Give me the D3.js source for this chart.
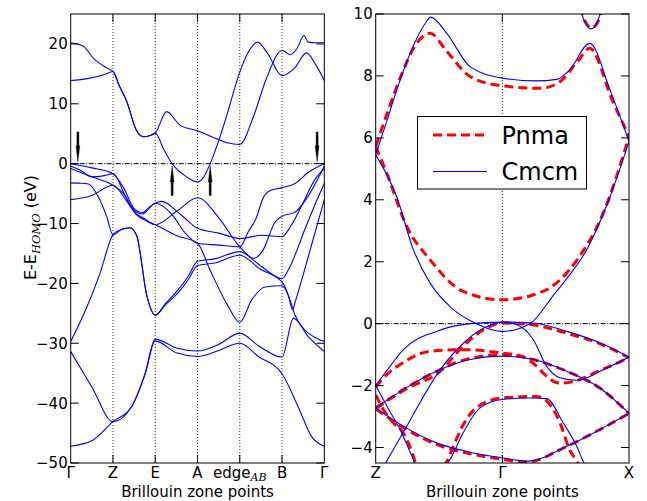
<!DOCTYPE html>
<html>
<head>
<meta charset="utf-8">
<script src="https://cdnjs.cloudflare.com/ajax/libs/d3/7.8.5/d3.min.js"></script>
<style>
  body { margin: 0; background: #fff; }
  svg { display: block; }
  text { font-family: "DejaVu Sans", sans-serif; fill: #000; }
</style>
</head>
<body>
<div id="chart"></div>
<script>
// ---- data: [k, energy] pairs, k = index of the high-symmetry point ----
const leftPoints = ["Γ", "Z", "E", "A", "edge", "B", "Γ"];
const leftYTicks = [-50, -40, -30, -20, -10, 0, 10, 20];

const conductionBands = [
  [[0,20.2],[0.3,19.6],[0.55,17.5],[0.85,16],[1,15.4],[1.15,13],[1.32,10.5],[1.56,5.5],[1.72,4.5],[1.88,4.7],[2,5.1],
   [2.27,8.7],[2.59,6.4],[3,5.5],[3.37,4.4],[3.7,3.5],[4,3.2],[4.32,7.8],[4.64,14.4],[5,18.9],[5.05,18.8],[5.19,18.2],
   [5.35,19.2],[5.52,21.4],[5.62,20.3],[5.8,20.2],[6,20.2]],
  [[0,13.9],[0.4,14.2],[0.8,14.9],[1,15.4],[1.15,13],[1.32,10.5],[1.56,5.5],[1.72,4.5],[1.88,4.7],[2,5.1],[2.2,2.4],
   [2.4,0],[2.74,-2.2],[3,-3.05],[3.15,-2.2],[3.3,0],[3.5,3.8],[3.69,8],[4,15.3],[4.2,18.6],[4.42,20.3],[4.65,18.5],
   [5,14.7],[5.3,16],[5.58,18.5],[5.8,16.5],[6,13.9]]
];

const valenceBands = [
  [[0,0],[0.5,-0.7],[1,-1.67],[1.25,-4],[1.5,-7.5],[1.7,-8.2],[1.85,-7.3],[2,-6.6],[2.15,-6.3],[2.6,-8.5],[3,-10.8],
   [3.5,-11.6],[4,-12.5],[4.53,-11.95],[5,-12.2],[5.2,-10.5],[5.47,-6.95],[5.79,-2.5],[6,-0.8]],
  [[0,-0.4],[0.25,-1.2],[0.5,-2.2],[0.8,-2.0],[1,-1.67],[1.3,-5.5],[1.5,-8],[1.75,-9.2],[2,-10.2],[2.5,-8],[3,-5.7],
   [3.5,-9],[4,-13.9],[4.32,-15.8],[4.53,-14.7],[4.84,-9.7],[5,-8.8],[5.31,-8.1],[5.63,-5.3],[6,-0.4]],
  [[0,-0.8],[0.5,-2.2],[1,-3.6],[1.25,-5],[1.5,-7.8],[1.7,-8.4],[1.85,-7.5],[2,-6.6],[2.4,-8.5],[2.7,-11.5],[3,-13.3],
   [3.5,-13.6],[4,-13.9],[4.2,-11.4],[4.4,-8.9],[4.53,-6.1],[4.72,-4.5],[5,-4.0],[5.31,-3.3],[5.63,-1.4],[6,0]],
  [[0,-3.2],[0.2,-3.25],[0.42,-3.4],[0.65,-5.5],[0.85,-8.8],[1,-11.9],[1.2,-11],[1.4,-10.7],[1.56,-12],[1.8,-22],
   [2,-25.3],[2.25,-23.5],[2.55,-21.5],[2.78,-19.4],[3,-17.0],[3.4,-16.6],[4,-15.3],[4.48,-17.6],[5,-19.8],[5.15,-22],
   [5.25,-24.4],[5.31,-23.1],[5.63,-15.3],[6,-6]],
  [[0,-6],[0.5,-5.3],[1,-3.6],[1.3,-6],[1.55,-8.5],[1.8,-9.6],[2,-10.2],[2.5,-12],[3,-13.3],[3.3,-17.8],[3.7,-23.5],
   [4,-26.5],[4.28,-22.8],[4.6,-20.6],[5,-20.4],[5.2,-23],[5.3,-25.2],[5.54,-27.8],[5.75,-28.9],[6,-29.7]]
];

const coreBands = [
  [[0,-29.7],[0.35,-24.5],[0.69,-18.4],[1,-11.9],[1.2,-11],[1.4,-10.7],[1.56,-12],[1.8,-22],[2,-25.3],[2.25,-23.3],
   [2.55,-21],[2.78,-18.8],[3,-16.3],[3.4,-15.9],[4,-14.7],[4.48,-17],[5,-19.2],[5.2,-17],[5.55,-10.8],[5.8,-6.5],[6,-3.3]],
  [[0,-31.4],[0.5,-37.3],[1,-43.1],[1.44,-40.6],[1.76,-35],[2,-29.3],[2.5,-30.8],[3,-31.3],[3.5,-30.2],[4,-28.3],
   [4.44,-30.4],[5,-32.3],[5.27,-25.8],[5.62,-28.9],[6,-31.4]],
  [[0,-47.2],[0.5,-46.3],[1,-43.1],[1.44,-40.6],[1.76,-35.2],[2,-29.6],[2.5,-31.6],[3,-32.2],[3.5,-31.2],[4,-30],
   [4.44,-32.2],[5,-35.1],[5.38,-40.6],[5.7,-45.6],[6,-47.2]]
];

// arrows: [k, start energy, tip energy]
const arrows = [[0.17, 5.3, 0.3], [2.40, -5.3, -0.4], [3.30, -5.3, -0.4], [5.83, 5.3, 0.3]];

const rightPoints = ["Z", "Γ", "X"];
const rightYTicks = [-4, -2, 0, 2, 4, 6, 8, 10];
const seriesNames = ["Pnma", "Cmcm"];

const pnmaBands = [
  [[0,5.72],[0.1,6.9],[0.2,8.0],[0.3,8.9],[0.43,9.38],[0.56,8.8],[0.745,7.98],[1,7.68],[1.3,7.6],[1.45,7.8],[1.6,8.5],
   [1.69,8.89],[1.87,7.2],[2,6.04]],
  [[0,5.72],[0.087,4.86],[0.245,3.14],[0.43,2.06],[0.69,1.04],[1,0.77],[1.32,1.04],[1.59,2.06],[1.8,3.6],[2,6.04]],
  [[1.615,10.25],[1.655,9.75],[1.705,9.55],[1.755,9.75],[1.795,10.25]],
  [[0,-2.72],[0.245,-2.1],[0.508,-1.54],[0.69,-0.73],[0.876,-0.14],[1,0.02],[1.22,-0.03],[1.5,-0.3],[1.77,-0.65],[2,-1.1]],
  [[0,-2.05],[0.1,-1.6],[0.2,-1.3],[0.43,-0.89],[0.69,-0.84],[1,-0.95],[1.15,-1.05],[1.25,-1.3],[1.35,-1.7],[1.45,-1.92],
   [1.55,-1.88],[1.75,-1.55],[2,-1.1]],
  [[0,-2.75],[0.218,-2.13],[0.48,-1.54],[0.745,-1.12],[1,-1.0],[1.245,-1.16],[1.51,-1.54],[1.77,-2.08],[2,-2.9]],
  [[0,-2.3],[0.06,-2.77],[0.139,-3.2],[0.218,-3.53],[0.297,-4.28],[0.33,-4.7]],
  [[0,-2.75],[0.218,-3.35],[0.48,-3.9],[0.745,-4.2],[1,-4.38],[1.19,-4.47],[1.51,-3.96],[1.77,-3.42],[2,-2.9]],
  [[0.53,-4.6],[0.56,-4.46],[0.613,-3.96],[0.7,-3.2],[0.8,-2.7],[1,-2.4],[1.27,-2.35],[1.35,-2.5],[1.455,-3.2],
   [1.53,-4.06],[1.59,-4.46],[1.61,-4.6]]
];

const cmcmBands = [
  [[0,5.45],[0.1,6.7],[0.166,7.55],[0.3,9.0],[0.4,9.75],[0.434,9.9],[0.56,9.38],[0.745,8.3],[1,7.93],[1.27,7.84],
   [1.43,7.89],[1.53,8.19],[1.69,9.05],[1.85,7.55],[2,5.88]],
  [[0,5.45],[0.166,4.1],[0.297,2.39],[0.43,1.31],[0.6,0.5],[0.795,0],[1,-0.25],[1.218,0],[1.4,0.9],[1.48,1.31],
   [1.666,2.39],[1.85,4.1],[2,5.88]],
  [[1.61,10.25],[1.65,9.75],[1.70,9.52],[1.75,9.75],[1.79,10.25]],
  [[0,-2.0],[0.113,-1.38],[0.218,-0.84],[0.48,-0.25],[0.745,0],[1,0.05],[1.24,0.02],[1.51,-0.25],[1.77,-0.62],[2,-1.08]],
  [[0.03,-4.85],[0.087,-4.44],[0.245,-3.31],[0.5,-1.54],[0.7,-0.6],[0.85,-0.15],[1,0.05],[1.11,-0.03],[1.245,-0.52],
   [1.35,-1.38],[1.455,-1.75],[1.587,-1.83],[1.8,-1.48],[2,-1.08]],
  [[0,-2.72],[0.218,-2.13],[0.48,-1.54],[0.745,-1.16],[1,-1.05],[1.245,-1.16],[1.51,-1.54],[1.77,-2.08],[2,-2.9]],
  [[0,-2.0],[0.1,-2.75],[0.192,-3.42],[0.297,-4.39],[0.36,-5]],
  [[0,-2.72],[0.218,-3.31],[0.48,-3.85],[0.745,-4.15],[1,-4.33],[1.2,-4.44],[1.51,-3.96],[1.77,-3.42],[2,-2.9]],
  [[0.55,-4.6],[0.587,-4.39],[0.69,-3.53],[0.824,-2.72],[1,-2.45],[1.218,-2.4],[1.35,-2.42],[1.48,-3.2],[1.587,-3.96],
   [1.64,-4.46],[1.66,-4.6]]
];

// ---- layout ----
const W = 647, H = 501;
const plotTop = 14, plotBottom = 463;

const svg = d3.select("#chart").append("svg").attr("width", W).attr("height", H);
const defs = svg.append("defs");

const minus = t => String(t).replace("-", "\u2212");

function panel(id, x, y, points, yTicks) {
  const [x0, x1] = x.range();
  defs.append("clipPath").attr("id", id)
    .append("rect").attr("x", x0).attr("y", plotTop).attr("width", x1 - x0).attr("height", plotBottom - plotTop);

  const g = svg.append("g");

  // dotted lines at the high-symmetry points
  g.selectAll(".grid").data(d3.range(1, points.length - 1)).enter().append("line")
    .attr("x1", d => x(d)).attr("x2", d => x(d)).attr("y1", plotTop).attr("y2", plotBottom)
    .attr("stroke", "#333").attr("stroke-width", 1).attr("stroke-dasharray", "1,2");

  // HOMO level
  g.append("line")
    .attr("x1", x0).attr("x2", x1).attr("y1", y(0)).attr("y2", y(0))
    .attr("stroke", "#000").attr("stroke-width", 1).attr("stroke-dasharray", "5,1.5,1,1.5");

  const bands = svg.append("g").attr("clip-path", "url(#" + id + ")");

  // frame and ticks go on top
  const axes = svg.append("g");
  axes.append("rect").attr("x", x0).attr("y", plotTop).attr("width", x1 - x0).attr("height", plotBottom - plotTop)
    .attr("fill", "none").attr("stroke", "#000").attr("stroke-width", 1);

  yTicks.forEach(t => {
    axes.append("line").attr("x1", x0).attr("x2", x0 + 8).attr("y1", y(t)).attr("y2", y(t)).attr("stroke", "#000");
    axes.append("line").attr("x1", x1 - 8).attr("x2", x1).attr("y1", y(t)).attr("y2", y(t)).attr("stroke", "#000");
    axes.append("text").attr("x", x0 - 3).attr("y", y(t)).attr("dy", "0.36em")
      .attr("text-anchor", "end").attr("font-size", 15).text(minus(t));
  });

  points.forEach((p, i) => {
    if (i > 0 && i < points.length - 1) {
      axes.append("line").attr("x1", x(i)).attr("x2", x(i)).attr("y1", plotTop).attr("y2", plotTop + 8).attr("stroke", "#000");
      axes.append("line").attr("x1", x(i)).attr("x2", x(i)).attr("y1", plotBottom - 8).attr("y2", plotBottom).attr("stroke", "#000");
    }
    const t = axes.append("text").attr("x", x(i)).attr("y", 478).attr("text-anchor", "middle").attr("font-size", 15);
    if (p === "Γ") {
      t.attr("font-family", "DejaVu Serif").text(p);
    } else if (p === "edge") {
      t.append("tspan").text("edge");
      t.append("tspan").attr("dy", 3).attr("font-size", 11).attr("font-style", "italic")
        .attr("font-family", "DejaVu Serif").text("AB");
    } else {
      t.text(p);
    }
  });

  axes.append("text").attr("x", (x0 + x1) / 2).attr("y", 497).attr("text-anchor", "middle")
    .attr("font-size", 15).text("Brillouin zone points");

  return { bands, axes };
}

// ---- left panel ----
const xL = d3.scaleLinear().domain([0, leftPoints.length - 1]).range([70.7, 324.3]);
const yL = d3.scaleLinear().domain([-50, 25]).range([plotBottom, plotTop]);
const left = panel("clipL", xL, yL, leftPoints, leftYTicks);

const lineL = d3.line().x(d => xL(d[0])).y(d => yL(d[1])).curve(d3.curveMonotoneX);
left.bands.selectAll("path").data(conductionBands.concat(valenceBands, coreBands)).enter().append("path")
  .attr("d", lineL).attr("fill", "none").attr("stroke", "#0000ff").attr("stroke-width", 1.1);

// arrows marking the crossings (narrow, long heads)
arrows.forEach(a => {
  const ax = xL(a[0]), ys = yL(a[1]), ye = yL(a[2]);
  const dir = ye > ys ? 1 : -1;
  const headLen = 16, shaft = 1.0, head = 1.9;
  const yh = ye - dir * headLen;
  const pts = [[ax - shaft, ys], [ax + shaft, ys], [ax + shaft, yh], [ax + head, yh], [ax, ye],
               [ax - head, yh], [ax - shaft, yh]];
  left.bands.append("path").attr("d", "M" + pts.map(p => p.join(",")).join("L") + "Z")
    .attr("fill", "#000").attr("stroke", "#000").attr("stroke-width", 0.4);
});

// y label
const yLabel = svg.append("text").attr("transform", "translate(36,227.5) rotate(-90)")
  .attr("text-anchor", "middle").attr("font-size", 16);
yLabel.append("tspan").text("E-E");
yLabel.append("tspan").attr("dy", 4).attr("font-size", 11.5).attr("font-style", "italic")
  .attr("font-family", "DejaVu Serif").text("HOMO");
yLabel.append("tspan").attr("dy", -4).text(" (eV)");

// ---- right panel ----
const xR = d3.scaleLinear().domain([0, rightPoints.length - 1]).range([375.7, 629]);
const yR = d3.scaleLinear().domain([-4.5, 10]).range([plotBottom, plotTop]);
const right = panel("clipR", xR, yR, rightPoints, rightYTicks);

const lineR = d3.line().x(d => xR(d[0])).y(d => yR(d[1])).curve(d3.curveMonotoneX);
right.bands.selectAll(".pnma").data(pnmaBands).enter().append("path")
  .attr("d", lineR).attr("fill", "none").attr("stroke", "#ff0000").attr("stroke-width", 3)
  .attr("stroke-dasharray", "9,5");
right.bands.selectAll(".cmcm").data(cmcmBands).enter().append("path")
  .attr("d", lineR).attr("fill", "none").attr("stroke", "#0000ff").attr("stroke-width", 1.1);

// legend
const legend = svg.append("g");
legend.append("rect").attr("x", 417.5).attr("y", 116.5).attr("width", 169).attr("height", 72.5)
  .attr("fill", "#fff").attr("stroke", "#000").attr("stroke-width", 1);
const legendStyles = [
  { stroke: "#ff0000", width: 3, dash: "9,5", y: 135 },
  { stroke: "#0000ff", width: 1.1, dash: null, y: 171.5 }
];
seriesNames.forEach((name, i) => {
  const s = legendStyles[i];
  legend.append("line").attr("x1", 433).attr("x2", 487).attr("y1", s.y).attr("y2", s.y)
    .attr("stroke", s.stroke).attr("stroke-width", s.width).attr("stroke-dasharray", s.dash);
  legend.append("text").attr("x", 501.5).attr("y", s.y + 8.5).attr("font-size", 24).text(name);
});
</script>
</body>
</html>
